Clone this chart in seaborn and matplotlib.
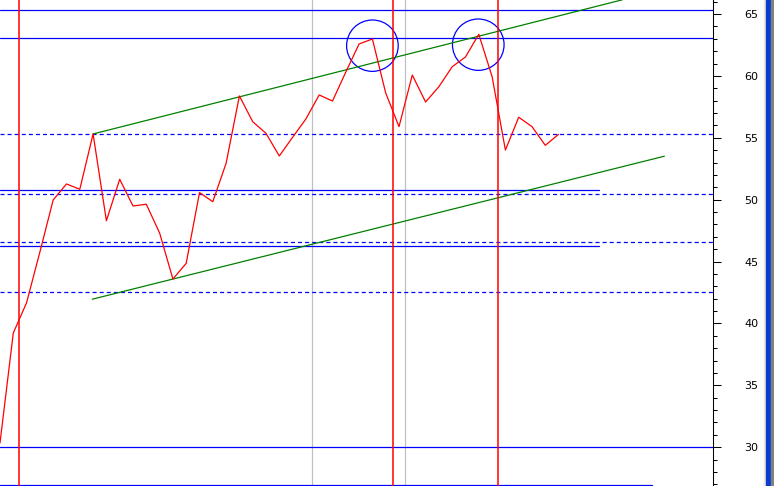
import numpy as np
import matplotlib
matplotlib.use("Agg")
import matplotlib.pyplot as plt
from matplotlib.patches import Ellipse, Rectangle
import seaborn as sns
import pandas as pd

# price series (bar index -> close)
price = [30.35, 39.23, 41.68, 45.78, 49.98, 51.27, 50.84, 55.31, 48.30, 51.65,
         49.49, 49.63, 47.31, 43.59, 44.86, 50.57, 49.84, 52.94, 58.38, 56.30,
         55.36, 53.53, 55.04, 56.52, 58.46, 57.97, 60.31, 62.58, 62.98, 58.62,
         55.90, 60.07, 57.89, 59.13, 60.74, 61.53, 63.36, 59.94, 54.01, 56.66,
         55.90, 54.39, 55.28]
bars = list(range(len(price)))

# trend channel (x0, y0, x1, y1)
upper_trend = (7.0, 55.31, 46.8, 66.15)
lower_trend = (6.94, 41.96, 49.95, 53.51)

# horizontal levels
solid_full = [65.30, 63.03, 30.0]
solid_part = [50.76, 46.26]
solid_part_end = 45.0
dashed_full = [55.28, 50.46, 46.58, 42.57]
bottom_level = 26.95
bottom_end = 49.0

# vertical markers
red_vlines = [1.45, 29.53, 37.47]
gray_vlines = [23.48, 30.47]

# circled tops (x, y)
tops_x = [28.0, 35.96]
tops_y = [62.44, 62.52]

plt.rcParams["lines.scale_dashes"] = False
sns.set_style("white")
plt.rcParams["font.family"] = ["DejaVu Sans"]

fig = plt.figure(figsize=(7.74, 4.86), dpi=100)
ax = fig.add_axes([0, 0, 713 / 774, 1])

lw = 0.9
for x in gray_vlines:
    ax.axvline(x, color="#c0c0c0", lw=lw)

for y in solid_full:
    ax.axhline(y, color="#0000ff", lw=lw)
for y in solid_part:
    ax.plot([0, solid_part_end], [y, y], color="#0000ff", lw=lw)
ax.plot([0, bottom_end], [bottom_level, bottom_level], color="#0000ff", lw=lw)
for y in dashed_full:
    ax.axhline(y, color="#0000ff", lw=lw, dashes=(2.9, 2.2))

ax.plot(upper_trend[::2], upper_trend[1::2], color="#008000", lw=lw)
ax.plot(lower_trend[::2], lower_trend[1::2], color="#008000", lw=lw)

df = pd.DataFrame({"bar": bars, "price": price})
sns.lineplot(data=df, x="bar", y="price", color="#ff0000", lw=lw, ax=ax)

for x in red_vlines:
    ax.axvline(x, color="#ff0000", lw=1.1)

for x, y in zip(tops_x, tops_y):
    ax.add_patch(Ellipse((x, y), 3.88, 4.15, fill=False, ec="#0000ff", lw=lw))

ax.set_xlim(0, 713 / 13.3)
ax.set_ylim(26.87, 66.13)
ax.set_xlabel("")
ax.set_ylabel("")
ax.set_xticks([])
ax.yaxis.tick_right()
ax.set_yticks(np.arange(30, 66, 5))
ax.set_yticks(np.arange(27, 67, 1), minor=True)
ax.tick_params(axis="y", which="major", direction="out", length=5.8, width=0.75,
               color="black", labelcolor="black", labelsize=8, pad=17,
               right=True, left=False)
ax.tick_params(axis="y", which="minor", direction="out", length=2.9, width=0.75,
               color="black", right=True, left=False)
for s in ["top", "left", "bottom"]:
    ax.spines[s].set_visible(False)
ax.spines["right"].set_color("black")
ax.spines["right"].set_linewidth(0.75)

# window border strip at right
fig.patches.append(Rectangle((764 / 774, 0), 2 / 774, 1, transform=fig.transFigure,
                             color="#ece9d8", zorder=5))
fig.patches.append(Rectangle((766 / 774, 0), 5 / 774, 1, transform=fig.transFigure,
                             color="#0a3cd2", zorder=5))
fig.patches.append(Rectangle((771 / 774, 0), 3 / 774, 1, transform=fig.transFigure,
                             color="#808080", zorder=5))

fig.savefig("out.png", dpi=100)
